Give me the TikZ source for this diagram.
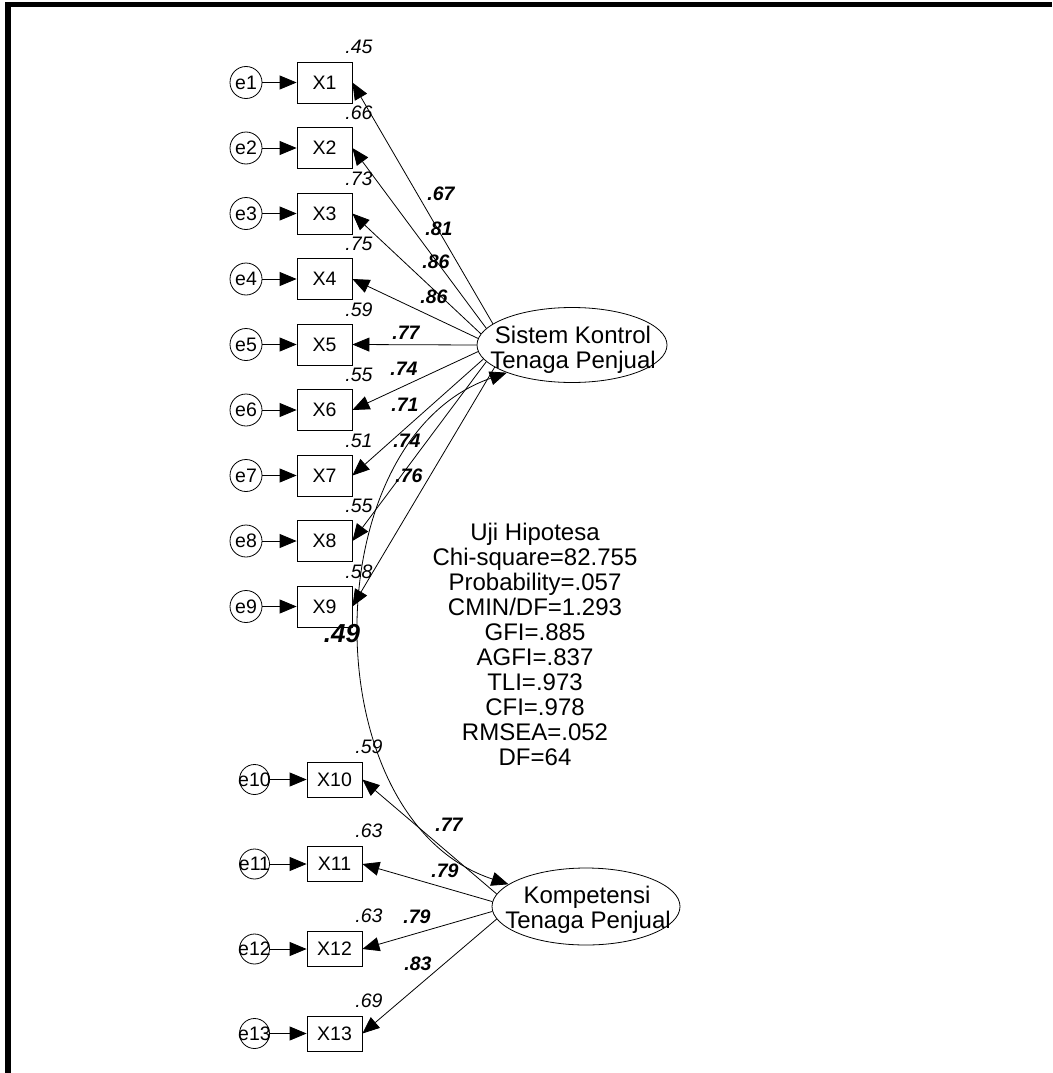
\documentclass[tikz,border=0pt]{standalone}
\usepackage{fontspec}
\setmainfont{Liberation Sans}
\usetikzlibrary{arrows.meta,shapes.geometric}
\newcommand{\smfnt}{\fontsize{19.5pt}{22pt}\selectfont}
\newcommand{\bgfnt}{\fontsize{24pt}{25pt}\selectfont}
\newcommand{\cvfnt}{\fontsize{26pt}{28pt}\selectfont}
\tikzset{
  obs/.style={draw, rectangle, minimum width=55pt, minimum height=#1, inner sep=0pt, line width=0.8pt, font=\smfnt},
  err/.style={draw, circle, minimum size=#1, inner sep=0pt, line width=0.8pt},
  elab/.style={font=\smfnt, inner sep=0pt},
  lat/.style={draw, ellipse, inner sep=0pt, line width=0.8pt},
  lattext/.style={font=\bgfnt, inner sep=0pt, anchor=base},
  stat/.style={font=\bgfnt, inner sep=0pt, anchor=base},
  rsq/.style={font=\smfnt\itshape, inner sep=0pt, anchor=base},
  load/.style={font=\smfnt\bfseries\itshape, inner sep=0pt, anchor=base},
  cv/.style={font=\cvfnt\bfseries\itshape, inner sep=0pt, anchor=base},
  tip/.style={line width=0.8pt, -{Triangle[length=17pt,width=14pt]}},
  covtip/.style={line width=0.8pt, {Triangle[length=17pt,width=14pt]}-{Triangle[length=17pt,width=14pt]}}
}
\begin{document}
\begin{tikzpicture}[x=1pt,y=-1pt]
\path[use as bounding box, fill=white] (0,0) rectangle (1052,1073);
% frame
\fill[black] (5,2) rectangle (1052,7);
\fill[black] (5,2) rectangle (11,1073);

% latent variables
\node[lat, minimum width=190pt, minimum height=75pt] (sk) at (572,345) {};
\node[lattext] (sk1) at (573,343) {Sistem Kontrol};
\node[lattext] (sk2) at (573,368) {Tenaga Penjual};
\node[lat, minimum width=188pt, minimum height=77pt] (kt) at (586,906.5) {};
\node[lattext] (kt1) at (587,903) {Kompetensi};
\node[lattext] (kt2) at (588,928) {Tenaga Penjual};

% indicators of Sistem Kontrol
\foreach \i/\y/\r/\a/\lx/\ly/\v in {
  1/82.5/.45/165/441/200/.67,
  2/148/.66/169/439/235/.81,
  3/213.5/.73/173/436/268/.86,
  4/279/.75/176/434/303/.86,
  5/344.5/.59/180/406/339/.77,
  6/410/.55/184/404/375/.74,
  7/475.5/.51/189/405/411/.71,
  8/541/.55/191/407/447/.74,
  9/606.5/.58/196/409/482/.76}{
  \node[obs=41pt] (X\i) at (324.5,\y) {X\i};
  \node[err=32pt, label={[elab]center:e\i}] (e\i) at (246,\y) {};
  \draw[tip] (e\i) -- (X\i);
  \node[rsq] (r\i) at (359,\y-28.5) {\r};
  \draw[tip] (sk.\a) -- (X\i.east);
  \node[load] (L\i) at (\lx,\ly) {\v};
}

% indicators of Kompetensi
\foreach \i/\y/\r/\a/\lx/\ly/\v in {
  10/779.5/.59/172/449/831/.77,
  11/864/.63/177/445/877/.79,
  12/949/.63/183/417/923/.79,
  13/1033.5/.69/188/418/970/.83}{
  \node[obs=35pt] (X\i) at (334.5,\y) {X\i};
  \node[err=30pt, label={[elab]center:e\i}] (e\i) at (254.5,\y) {};
  \draw[tip] (e\i) -- (X\i);
  \node[rsq] (r\i) at (369,\y-26.5) {\r};
  \draw[tip] (kt.\a) -- (X\i.east);
  \node[load] (L\i) at (\lx,\ly) {\v};
}

% covariance
\draw[covtip] (sk.203) .. controls (312,440) and (312,820) .. (kt.164);
\node[cv] (cov) at (342,642) {.49};

% fit statistics
\foreach \t [count=\k] in {Uji Hipotesa, Chi-square=82.755, Probability=.057, CMIN/DF=1.293, GFI=.885, AGFI=.837, TLI=.973, CFI=.978, RMSEA=.052, DF=64}{
  \node[stat] (s\k) at (535,515+25*\k) {\t};
}
\end{tikzpicture}
\end{document}
